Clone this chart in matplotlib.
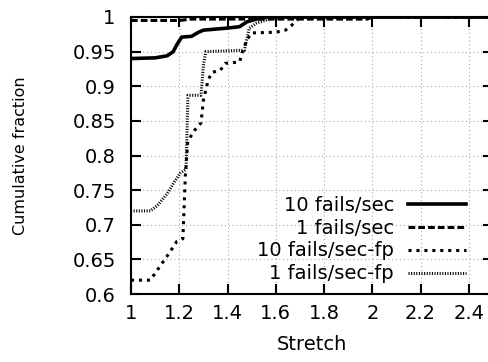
import matplotlib
matplotlib.use("Agg")
import matplotlib.pyplot as plt

plt.rcParams['font.family'] = ['DejaVu Sans']

# step-like CDF curves
x_10 = [1.0, 1.1, 1.15, 1.175, 1.19, 1.21, 1.25, 1.28, 1.3, 1.4, 1.45, 1.48, 1.52, 1.56, 2.5]
y_10 = [0.94, 0.941, 0.944, 0.95, 0.96, 0.971, 0.972, 0.978, 0.981, 0.984, 0.986, 0.993, 0.997, 1.0, 1.0]

x_1 = [1.0, 1.2, 1.25, 1.98, 2.0, 2.5]
y_1 = [0.995, 0.995, 0.997, 0.997, 1.0, 1.0]

x_10fp = [1.0, 1.08, 1.12, 1.16, 1.19, 1.215, 1.225, 1.235, 1.26, 1.29, 1.3, 1.32, 1.335, 1.37,
          1.39, 1.45, 1.46, 1.48, 1.5, 1.6, 1.64, 1.66, 1.7, 2.5]
y_10fp = [0.62, 0.62, 0.64, 0.66, 0.676, 0.68, 0.77, 0.82, 0.835, 0.847, 0.88, 0.909, 0.92, 0.923,
          0.933, 0.935, 0.948, 0.967, 0.977, 0.978, 0.981, 0.986, 1.0, 1.0]

x_1fp = [1.0, 1.08, 1.11, 1.15, 1.18, 1.205, 1.228, 1.236, 1.29, 1.3, 1.31, 1.47, 1.49, 1.52,
         1.6, 2.5]
y_1fp = [0.72, 0.72, 0.728, 0.745, 0.762, 0.775, 0.78, 0.887, 0.887, 0.93, 0.95, 0.952, 0.984,
         0.991, 1.0, 1.0]

xticks = [1, 1.2, 1.4, 1.6, 1.8, 2, 2.2, 2.4]
xticklabels = ['1', '1.2', '1.4', '1.6', '1.8', '2', '2.2', '2.4']
yticks = [0.6, 0.65, 0.7, 0.75, 0.8, 0.85, 0.9, 0.95, 1]
yticklabels = ['0.6', '0.65', '0.7', '0.75', '0.8', '0.85', '0.9', '0.95', '1']

fig = plt.figure(figsize=(4.88, 3.62), dpi=100)
# right spine falls just outside the picture, as in the original
ax = fig.add_axes([131 / 488, 68 / 362, 362 / 488, 277 / 362])

lw = 2.2
ax.plot(x_10, y_10, color='k', lw=2.6, label='10 fails/sec')
ax.plot(x_1, y_1, color='k', lw=lw, dashes=(2.2, 1.0), label='1 fails/sec')
ax.plot(x_10fp, y_10fp, color='k', lw=lw, dashes=(1.0, 1.6), label='10 fails/sec-fp')
ax.plot(x_1fp, y_1fp, color='k', lw=lw, dashes=(0.35, 0.5), label='1 fails/sec-fp')

ax.set_xlim(1, 2.5)
ax.set_ylim(0.6, 1.0)
ax.set_xticks(xticks)
ax.set_xticklabels(xticklabels)
ax.set_yticks(yticks)
ax.set_yticklabels(yticklabels)
ax.grid(True, color='#a8a8a8', lw=0.8, linestyle=(0, (1, 2.5)))
ax.tick_params(direction='in', length=7, width=1.5, top=True, right=True, labelsize=14)
ax.tick_params(axis='y', pad=11)
ax.tick_params(axis='x', pad=7)
for s in ax.spines.values():
    s.set_linewidth(1.5)

ax.set_xlabel('Stretch', fontsize=14, labelpad=9)
ax.set_ylabel('Cumulative fraction', fontsize=11.5, labelpad=32)

ax.legend(loc='lower right', bbox_to_anchor=(0.955, 0.0), frameon=False, markerfirst=False,
          fontsize=14, handlelength=3.0, labelspacing=0.2, handletextpad=0.7,
          borderaxespad=0.15)

fig.savefig('out.png', dpi=100)
